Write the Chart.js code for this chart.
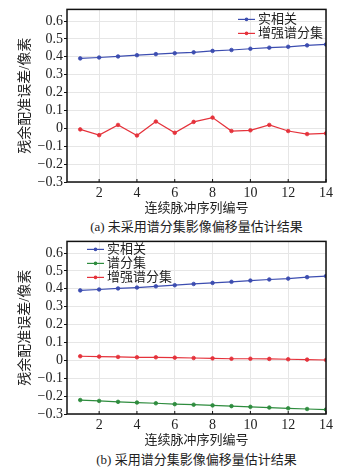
<!DOCTYPE html>
<html lang="zh">
<head>
<meta charset="UTF-8">
<title>残余配准误差</title>
<script src="https://cdn.jsdelivr.net/npm/chart.js"></script>
<style>
  body { margin: 0; background: #fff; width: 338px; height: 475px; position: relative; overflow: hidden; }
  .box { position: absolute; left: 0; width: 338px; height: 218px; }
  .cap { position: absolute; left: 67px; width: 259px; text-align: center;
         font: 13px "Liberation Serif", "Noto Sans CJK SC", serif; color: #222; line-height: 16px; }
</style>
</head>
<body>
<div class="box" style="top:0"><canvas id="chartA"></canvas></div>
<div class="cap" style="top:219px">(a) 未采用谱分集影像偏移量估计结果</div>
<div class="box" style="top:232px"><canvas id="chartB"></canvas></div>
<div class="cap" style="top:452px">(b) 采用谱分集影像偏移量估计结果</div>

<script>
const pulses = [1, 2, 3, 4, 5, 6, 7, 8, 9, 10, 11, 12, 13, 14];
const xTicks = [2, 4, 6, 8, 10, 12, 14];
const yTicks = [-0.3, -0.2, -0.1, 0, 0.1, 0.2, 0.3, 0.4, 0.5, 0.6];

// (a) 未采用谱分集
const corrA = [0.391, 0.396, 0.402, 0.409, 0.415, 0.420, 0.425, 0.433, 0.438, 0.445, 0.451, 0.456, 0.464, 0.469];
const enhA = [-0.006, -0.038, 0.019, -0.040, 0.038, -0.025, 0.036, 0.060, -0.015, -0.011, 0.019, -0.015, -0.032, -0.028];

// (b) 采用谱分集
const corrB = [0.391, 0.396, 0.402, 0.407, 0.414, 0.420, 0.427, 0.433, 0.439, 0.446, 0.452, 0.457, 0.465, 0.471];
const divB = [-0.222, -0.227, -0.232, -0.236, -0.240, -0.245, -0.248, -0.252, -0.256, -0.260, -0.264, -0.268, -0.272, -0.275];
const enhB = [0.023, 0.021, 0.019, 0.017, 0.017, 0.015, 0.013, 0.011, 0.009, 0.009, 0.008, 0.006, 0.004, 0.002];

const BLUE = '#3c4db0', GREEN = '#2e8c3e', RED = '#e5323b';
const serif = '"Liberation Serif", "Noto Sans CJK SC", serif';

function series(label, vals, color) {
  return {
    label: label,
    data: pulses.map((x, i) => ({ x: x, y: vals[i] })),
    borderColor: color, backgroundColor: color,
    borderWidth: 1.2, pointRadius: 1.8, pointBorderWidth: 0.8,
    tension: 0
  };
}

// legend drawn inside the plot, plus the black frame
const framePlugin = {
  id: 'frame',
  afterDraw(chart, args, opts) {
    const ctx = chart.ctx, a = chart.chartArea;
    ctx.save();
    ctx.strokeStyle = '#111';
    ctx.lineWidth = 1.5;
    ctx.strokeRect(a.left, a.top, a.right - a.left, a.bottom - a.top);
    // small inward ticks on x axis
    const xs = chart.scales.x;
    ctx.lineWidth = 1;
    xTicks.forEach(t => {
      const px = xs.getPixelForValue(t);
      ctx.beginPath(); ctx.moveTo(px, a.bottom); ctx.lineTo(px, a.bottom - 3); ctx.stroke();
    });
    // legend
    ctx.font = '13px ' + serif;
    ctx.textBaseline = 'middle';
    chart.data.datasets.forEach((ds, i) => {
      const y = a.top + opts.y + i * 14;
      const x = a.left + opts.x;
      ctx.strokeStyle = ds.borderColor;
      ctx.lineWidth = 1.2;
      ctx.beginPath(); ctx.moveTo(x, y); ctx.lineTo(x + 17, y); ctx.stroke();
      ctx.fillStyle = ds.borderColor;
      ctx.beginPath(); ctx.arc(x + 8.5, y, 1.8, 0, Math.PI * 2); ctx.fill();
      ctx.fillStyle = '#222';
      ctx.fillText(ds.label, x + 20, y);
    });
    ctx.restore();
  }
};

function makeChart(id, datasets, legendPos) {
  return new Chart(document.getElementById(id).getContext('2d'), {
    type: 'line',
    data: { datasets: datasets },
    plugins: [framePlugin],
    options: {
      responsive: true,
      maintainAspectRatio: false,
      animation: false,
      layout: { padding: { top: 8, right: 12, left: 0, bottom: 0 } },
      plugins: {
        legend: { display: false },
        tooltip: { enabled: false },
        frame: legendPos
      },
      scales: {
        x: {
          type: 'linear', min: 0.3, max: 14,
          afterBuildTicks: s => { s.ticks = xTicks.map(v => ({ value: v })); },
          afterFit: s => { s.height = 36; },
          grid: { color: '#e6e6e6', drawTicks: false },
          border: { display: false },
          ticks: { padding: 3, color: '#222', autoSkip: false, font: { family: serif, size: 14 }, maxRotation: 0 },
          title: { display: true, text: '连续脉冲序列编号', color: '#222',
                   font: { family: serif, size: 13 }, padding: { top: 0, bottom: 2 } }
        },
        y: {
          min: -0.3, max: 0.665,
          afterBuildTicks: s => { s.ticks = yTicks.map(v => ({ value: v })); },
          afterFit: s => { s.width = 67; },
          grid: { color: '#e6e6e6', drawTicks: true, tickLength: 3, tickColor: '#111' },
          border: { display: false },
          ticks: {
            padding: 1, color: '#222', autoSkip: false, font: { family: serif, size: 14 },
            callback: v => Math.abs(v) < 1e-9 ? '0' : v.toFixed(1).replace('-', '\u2212')
          },
          title: { display: true, text: '残余配准误差/像素', color: '#222',
                   font: { family: serif, size: 14 }, padding: { top: 17, bottom: 0 } }
        }
      }
    }
  });
}

makeChart('chartA', [series('实相关', corrA, BLUE), series('增强谱分集', enhA, RED)], { x: 171, y: 10 });
makeChart('chartB', [series('实相关', corrB, BLUE), series('谱分集', divB, GREEN), series('增强谱分集', enhB, RED)], { x: 20, y: 8 });
</script>
</body>
</html>
